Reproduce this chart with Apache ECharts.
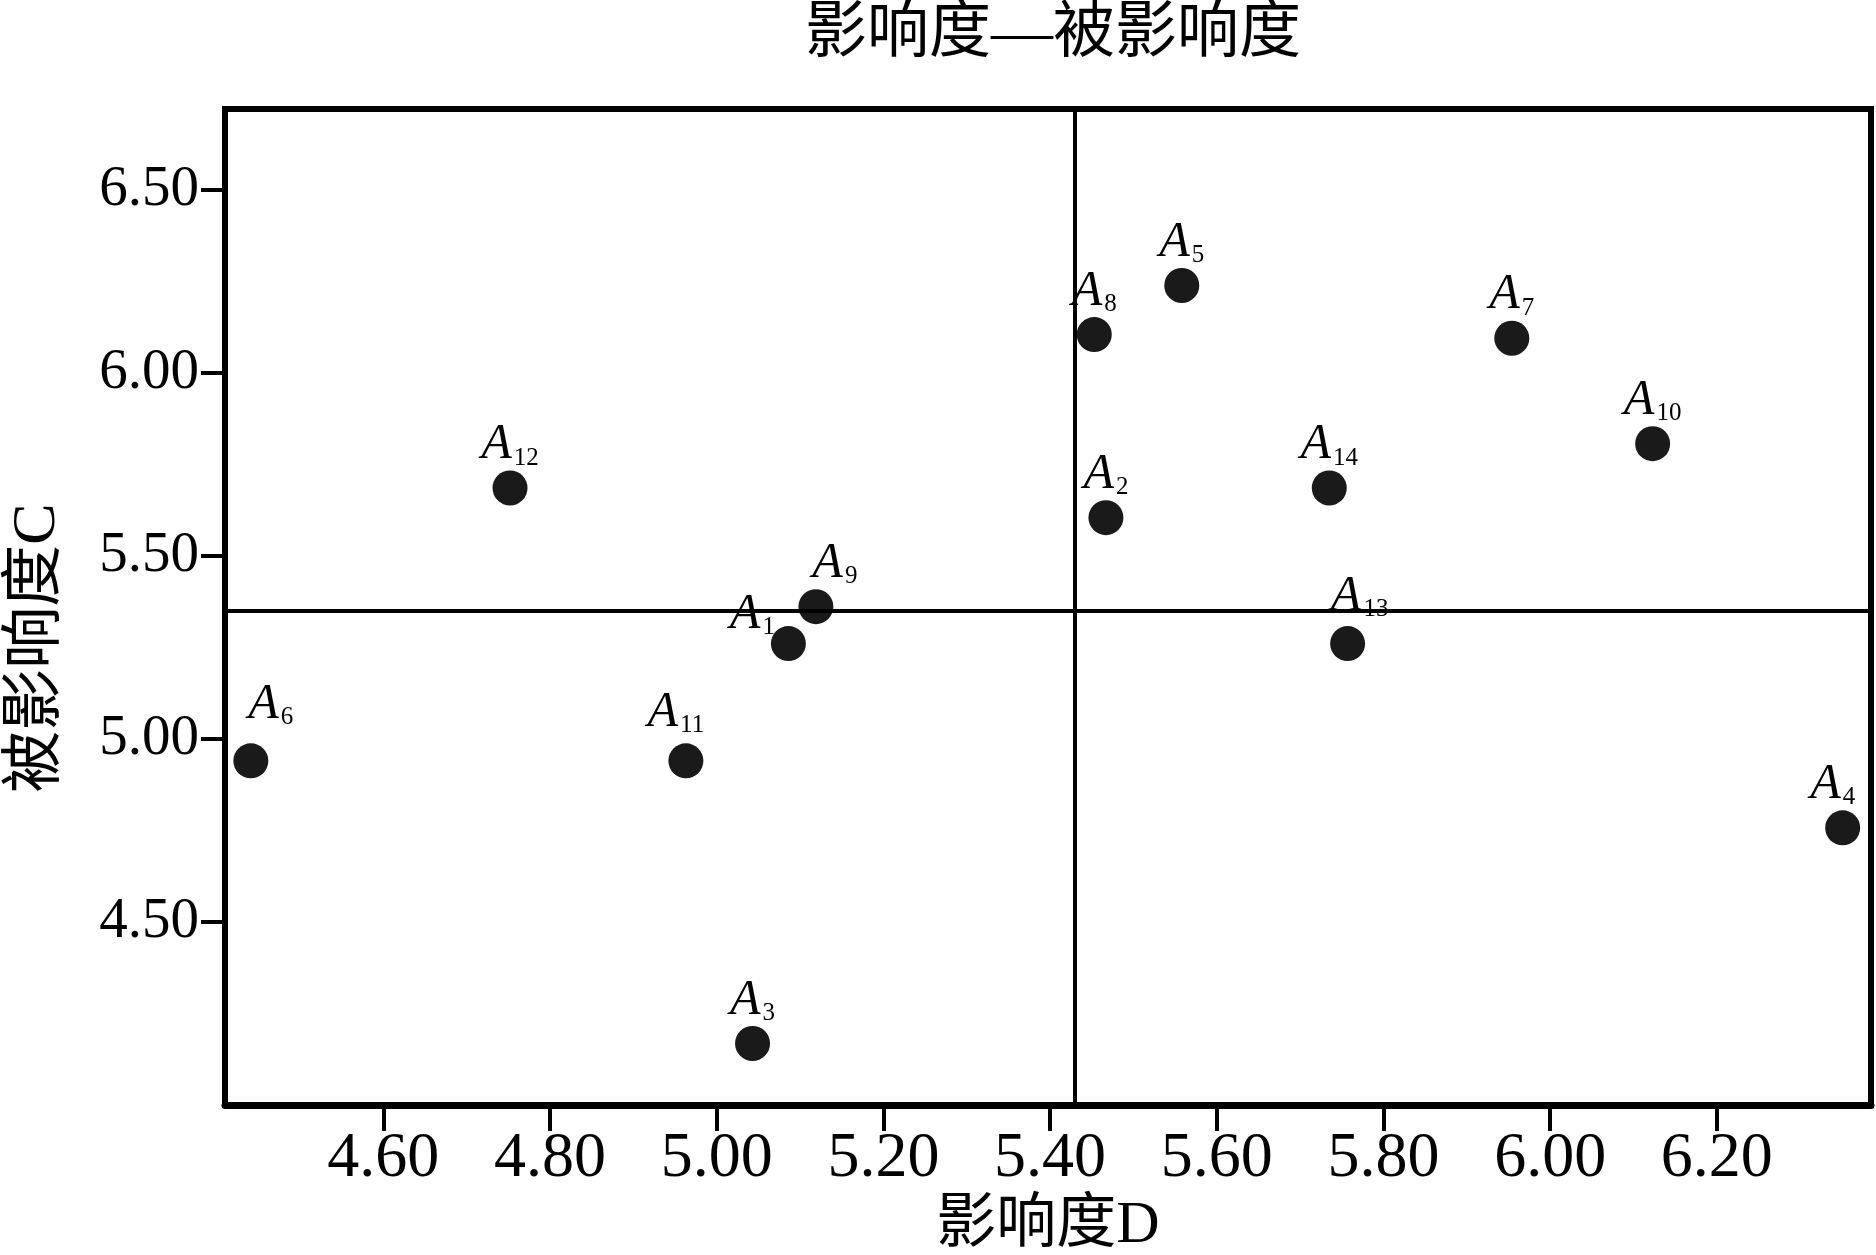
<!DOCTYPE html>
<html>
<head>
<meta charset="utf-8">
<script src="https://cdn.jsdelivr.net/npm/echarts@6/dist/echarts.min.js"></script>
<style>
  html, body { margin: 0; padding: 0; background: #fff; }
  #chart { width: 1876px; height: 1255px; }
</style>
</head>
<body>
<div id="chart"></div>
<script>
// values
const pointIds = [1, 2, 3, 4, 5, 6, 7, 8, 9, 10, 11, 12, 13, 14];
const influenceD = [5.086, 5.467, 5.043, 6.351, 5.558, 4.441, 5.954, 5.453, 5.119, 6.123, 4.963, 4.752, 5.757, 5.735];
const influencedC = [5.260, 5.604, 4.168, 4.757, 6.238, 4.940, 6.094, 6.104, 5.361, 5.806, 4.940, 5.685, 5.260, 5.685];
const xTicks = [4.6, 4.8, 5.0, 5.2, 5.4, 5.6, 5.8, 6.0, 6.2];
const yTicks = [4.5, 5.0, 5.5, 6.0, 6.5];
const meanD = 5.428;
const meanC = 5.35;

// a few labels sit off the usual spot
const labelShift = { 1: [-36, 14], 4: [-10, 0], 6: [20, -13], 9: [19, 0], 11: [-10, -5], 13: [12, -4] };

const serif = '"Liberation Serif", "Times New Roman", "Noto Sans CJK SC", serif';

const chart = echarts.init(document.getElementById('chart'));

const points = pointIds.map((id, i) => ({
  value: [influenceD[i], influencedC[i]],
  id: id,
  label: { offset: labelShift[id] || [0, 0] }
}));

chart.setOption({
  animation: false,
  title: {
    text: '影响度—被影响度',
    left: 1048,
    textAlign: 'center',
    top: 0,
    textStyle: { fontFamily: serif, fontSize: 62, fontWeight: 'normal', color: '#000' }
  },
  grid: {
    left: 225, right: 5, top: 109, bottom: 150,
    outerBoundsMode: 'none',
    show: true, borderColor: '#000', borderWidth: 6
  },
  xAxis: {
    type: 'value',
    min: 4.41,
    max: 6.385,
    name: '影响度D',
    nameLocation: 'middle',
    nameGap: 86,
    nameTextStyle: { fontFamily: serif, fontSize: 60, color: '#000' },
    axisLine: { show: true, lineStyle: { color: '#000', width: 7 } },
    axisTick: { show: true, length: 26, lineStyle: { color: '#000', width: 4 }, customValues: xTicks },
    axisLabel: {
      customValues: xTicks,
      margin: 22,
      fontFamily: serif, fontSize: 64, color: '#000',
      formatter: v => v.toFixed(2)
    },
    splitLine: { show: false }
  },
  yAxis: {
    type: 'value',
    min: 4.0,
    max: 6.72,
    name: '被影响度C',
    nameLocation: 'middle',
    nameGap: 156,
    nameTextStyle: { fontFamily: serif, fontSize: 62, color: '#000', padding: [0, 82, 0, 0] },
    axisLine: { show: true, lineStyle: { color: '#000', width: 6 } },
    axisTick: { show: true, length: 24, lineStyle: { color: '#000', width: 4 }, customValues: yTicks },
    axisLabel: {
      customValues: yTicks,
      margin: 26,
      fontFamily: serif, fontSize: 57, color: '#000',
      formatter: v => v.toFixed(2)
    },
    splitLine: { show: false }
  },
  series: [{
    type: 'scatter',
    symbol: 'circle',
    symbolSize: 35,
    itemStyle: { color: '#1a1a1a', opacity: 1 },
    data: points,
    label: {
      show: true,
      position: 'top',
      distance: 0,
      formatter: p => '{a|A}{s|' + p.data.id + '}',
      rich: {
        a: { fontFamily: serif, fontStyle: 'italic', fontSize: 50, color: '#000', lineHeight: 50 },
        s: { fontFamily: serif, fontSize: 25, color: '#000', padding: [26, 0, 0, 2] }
      }
    },
    markLine: {
      silent: true,
      symbol: 'none',
      label: { show: false },
      lineStyle: { color: '#000', width: 4, type: 'solid' },
      data: [{ xAxis: meanD }, { yAxis: meanC }]
    }
  }]
});
</script>
</body>
</html>
